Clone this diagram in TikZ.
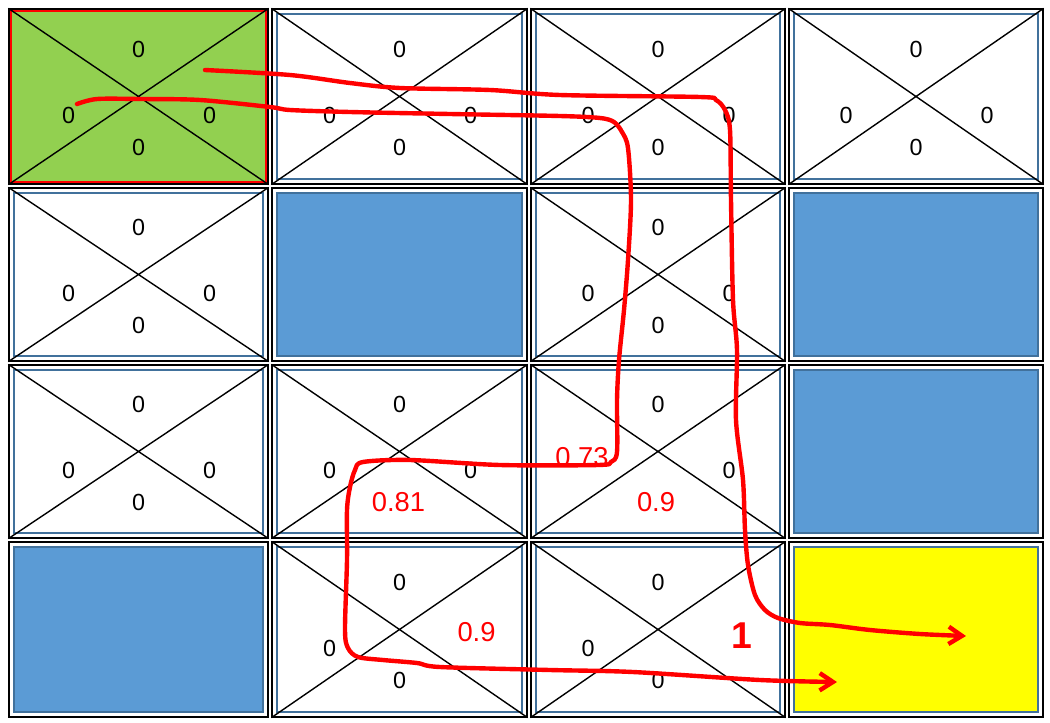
\documentclass[tikz,border=0pt]{standalone}
\usepackage{fontspec}
\setmainfont{Liberation Sans}
\usetikzlibrary{arrows.meta,fit}
\definecolor{cellgreen}{HTML}{92D050}
\definecolor{cellblue}{HTML}{5B9BD5}
\definecolor{boxline}{HTML}{41719C}
\definecolor{pathred}{HTML}{FF0000}
\definecolor{goalyellow}{HTML}{FFFF00}
\begin{document}
\begin{tikzpicture}[x=0.75pt,y=-0.75pt,
  cellframe/.style={draw=black, line width=1.25pt, inner sep=0pt},
  innerbox/.style={draw=boxline, line width=1.4pt},
  diag/.style={draw=black, line width=1.05pt},
  qval/.style={font=\fontsize{17.5}{20}\selectfont, inner sep=0pt},
  rval/.style={font=\fontsize{20.5}{24}\selectfont, text=pathred, inner sep=0pt},
  wall/.style={fill=cellblue, draw=boxline, line width=1.4pt},
  goalcell/.style={fill=goalyellow, draw=boxline, line width=1.4pt},
  startcell/.style={fill=cellgreen, draw=pathred, line width=1.4pt},
  redpath/.style={draw=pathred, line width=3.3pt, line cap=round, line join=round,
    -{Straight Barb[length=10pt,width=13pt]}}
]
\useasboundingbox (0,0) rectangle (1050,722);
\fill[white] (0,0) rectangle (1050,722);

% grid cells
\foreach \i/\xa/\xb in {0/7/270,1/270/529,2/529/787,3/787/1045}
  \foreach \j/\ya/\yb in {0/7/186,1/186/363,2/363/540,3/540/719}
  {\node[cellframe, fit={(\xa+2.2,\ya+2.2) (\xb-2.2,\yb-2.2)}] (c\i\j) {};}

% start cell
\draw[startcell] ([shift={(3,3)}]c00.north west) rectangle ([shift={(-3,-3)}]c00.south east);
\draw[diag] (c00.north west) -- (c00.south east) (c00.north east) -- (c00.south west);

% ordinary cells
\foreach \c in {10,20,30,01,21,02,12,22,13,23} {
  \draw[innerbox] ([shift={(6,6)}]c\c.north west) rectangle ([shift={(-6,-6)}]c\c.south east);
  \draw[diag] (c\c.north west) -- (c\c.south east) (c\c.north east) -- (c\c.south west);
}

% walls and goal
\foreach \c in {11,31,32,03}
  \draw[wall] ([shift={(6,6)}]c\c.north west) rectangle ([shift={(-6,-6)}]c\c.south east);
\draw[goalcell] ([shift={(6,6)}]c33.north west) rectangle ([shift={(-6,-6)}]c33.south east);

% zero values
\foreach \c in {00,10,20,30,01,21,02,12,22,13,23}
  \node[qval] (t\c) at ([shift={(0,-47)}]c\c.center) {0};
\foreach \c in {00,10,20,30,01,21,02,12,13,23}
  \node[qval] (l\c) at ([shift={(-70,19)}]c\c.center) {0};
\foreach \c in {00,10,20,30,01,21,02,12,22}
  \node[qval] (r\c) at ([shift={(71,19)}]c\c.center) {0};
\foreach \c in {00,10,20,30,01,21,02,13,23}
  \node[qval] (b\c) at ([shift={(0,51)}]c\c.center) {0};

% learned values
\node[rval] (v12b) at ([shift={(-1,51)}]c12.center) {0.81};
\node[rval] (v22l) at ([shift={(-76,6)}]c22.center) {0.73};
\node[rval] (v22b) at ([shift={(-2,51)}]c22.center) {0.9};
\node[rval] (v13r) at ([shift={(77,3)}]c13.center) {0.9};
\node[rval, font=\fontsize{28}{32}\selectfont\bfseries] (v23r) at ([shift={(84,6)}]c23.center) {1};

% paths
\coordinate (pAstart) at (205,70);
\coordinate (pAend) at (966,636);
\coordinate (pBstart) at (77,104);
\coordinate (pBend) at (837,682);

\draw[redpath] plot[smooth, tension=0.5] coordinates {(pAstart) (290,75) (350,83) (400,88)
  (490,90) (560,95) (700,97) (716,100) (725,110) (730,130) (731,200) (733,300) (737,350)
  (736,420) (743,480) (745,530) (748,565) (755,595) (765,610) (778,618) (800,623)
  (830,625) (870,630) (920,634) (pAend)};

\draw[redpath] plot[smooth, tension=0.5] coordinates {(pBstart) (97,99) (140,99) (200,100)
  (270,107) (290,110) (350,112) (450,114) (560,116) (600,118) (614,122) (622,132)
  (628,148) (631,200) (628,260) (624,310) (619,360) (617,400) (617,452) (611,462)
  (598,465) (500,465) (410,460) (363,462) (355,470) (350,487) (347,510) (347,560)
  (345,630) (348,648) (358,657) (383,660) (417,663) (440,667) (550,670) (633,672)
  (760,680) (pBend)};
\end{tikzpicture}
\end{document}
